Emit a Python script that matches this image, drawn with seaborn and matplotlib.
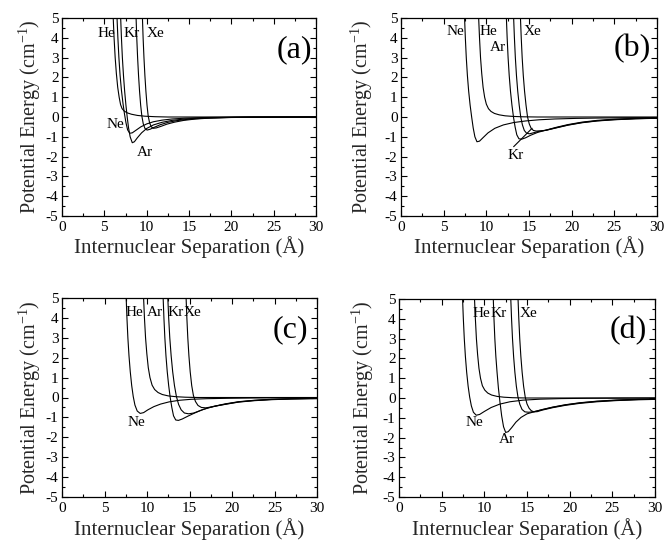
import matplotlib
matplotlib.use("Agg")
import matplotlib.pyplot as plt
from matplotlib.ticker import MultipleLocator
import pandas as pd
import seaborn as sns

# ---------------- data: interatomic potential curves (r in Å, V in cm^-1) ----------------
# panel (a)
a_he_r = [5.98, 6.05, 6.15, 6.28, 6.42, 6.58, 6.75, 6.92, 7.1, 7.35, 7.7, 8.2, 8.9, 9.8, 11.0, 12.5, 15, 30]
a_he_v = [6.0, 5.0, 4.0, 3.0, 2.2, 1.5, 1.0, 0.62, 0.42, 0.3, 0.21, 0.14, 0.08, 0.04, 0.015, 0.0, 0, 0]
a_ne_r = [6.43, 6.5, 6.6, 6.72, 6.86, 7.02, 7.2, 7.38, 7.56, 7.75, 8.0, 8.3, 8.7, 9.3, 10.0, 10.8, 11.8, 13, 14.5, 16.5, 19, 22, 30]
a_ne_v = [6.0, 5.0, 4.0, 3.0, 2.1, 1.35, 0.7, 0.15, -0.3, -0.65, -0.82, -0.8, -0.68, -0.5, -0.35, -0.24, -0.16, -0.1, -0.06, -0.03, -0.015, -0.005, 0]
a_ar_r = [6.86, 6.93, 7.02, 7.13, 7.26, 7.4, 7.55, 7.7, 7.86, 8.05, 8.3, 8.55, 8.9, 9.4, 10.0, 10.8, 11.8, 13, 14.5, 16.5, 19, 22, 30]
a_ar_v = [6.0, 5.0, 4.0, 3.0, 2.1, 1.3, 0.6, 0.0, -0.55, -1.0, -1.3, -1.25, -1.05, -0.8, -0.58, -0.4, -0.27, -0.17, -0.1, -0.05, -0.025, -0.01, 0]
a_kr_r = [8.68, 8.75, 8.83, 8.93, 9.04, 9.16, 9.29, 9.43, 9.6, 9.8, 10.05, 10.4, 10.9, 11.6, 12.5, 13.6, 15, 17, 19.5, 22, 30]
a_kr_v = [6.0, 5.0, 4.0, 3.0, 2.1, 1.3, 0.6, 0.05, -0.35, -0.58, -0.66, -0.62, -0.52, -0.39, -0.27, -0.18, -0.11, -0.055, -0.025, -0.01, 0]
a_xe_r = [9.43, 9.5, 9.58, 9.68, 9.79, 9.91, 10.04, 10.18, 10.35, 10.55, 10.8, 11.15, 11.7, 12.4, 13.3, 14.4, 15.8, 17.5, 20, 23, 30]
a_xe_v = [6.0, 5.0, 4.0, 3.0, 2.1, 1.3, 0.6, 0.05, -0.3, -0.5, -0.57, -0.55, -0.47, -0.36, -0.26, -0.17, -0.1, -0.055, -0.025, -0.01, 0]

# panel (b)
b_ne_r = [7.38, 7.45, 7.54, 7.65, 7.78, 7.93, 8.1, 8.28, 8.46, 8.66, 8.9, 9.2, 9.6, 10.2, 11.0, 12.0, 13.2, 14.6, 16.2, 18, 20.5, 23.5, 27, 30]
b_ne_v = [6.0, 5.0, 4.0, 3.0, 2.1, 1.3, 0.6, 0.0, -0.55, -1.0, -1.25, -1.22, -1.05, -0.8, -0.57, -0.4, -0.28, -0.2, -0.14, -0.1, -0.07, -0.05, -0.035, -0.03]
b_he_r = [9.03, 9.1, 9.2, 9.32, 9.46, 9.62, 9.8, 10.0, 10.25, 10.55, 10.95, 11.5, 12.2, 13.1, 14.3, 16, 30]
b_he_v = [6.0, 5.0, 4.0, 3.0, 2.2, 1.5, 1.0, 0.65, 0.42, 0.28, 0.18, 0.11, 0.06, 0.03, 0.01, 0, 0]
b_ar_r = [12.28, 12.35, 12.44, 12.55, 12.68, 12.83, 13.0, 13.18, 13.37, 13.57, 13.82, 14.15, 14.6, 15.2, 16.0, 17.0, 18.2, 19.6, 21.2, 23, 25, 27.5, 30]
b_ar_v = [6.0, 5.0, 4.0, 3.0, 2.1, 1.3, 0.6, 0.0, -0.5, -0.9, -1.1, -1.12, -1.05, -0.92, -0.78, -0.66, -0.52, -0.38, -0.26, -0.17, -0.11, -0.07, -0.05]
b_kr_r = [13.13, 13.2, 13.29, 13.4, 13.53, 13.68, 13.85, 14.03, 14.23, 14.45, 14.72, 15.05, 15.5, 16.1, 17.0, 18.2, 19.6, 21.2, 23, 25, 27.5, 30]
b_kr_v = [6.0, 5.0, 4.0, 3.0, 2.1, 1.3, 0.6, 0.0, -0.4, -0.68, -0.82, -0.85, -0.8, -0.73, -0.67, -0.54, -0.4, -0.28, -0.19, -0.13, -0.085, -0.06]
b_xe_r = [13.93, 14.0, 14.09, 14.2, 14.33, 14.48, 14.65, 14.83, 15.03, 15.25, 15.52, 15.85, 16.3, 17.0, 18.2, 19.6, 21.2, 23, 25, 27.5, 30]
b_xe_v = [6.0, 5.0, 4.0, 3.0, 2.1, 1.3, 0.6, 0.0, -0.35, -0.57, -0.68, -0.71, -0.7, -0.67, -0.55, -0.41, -0.29, -0.2, -0.14, -0.09, -0.065]

# panel (c)
c_ne_r = [7.48, 7.55, 7.64, 7.75, 7.88, 8.03, 8.2, 8.38, 8.58, 8.85, 9.2, 9.6, 10.1, 10.8, 11.6, 12.6, 13.8, 15.2, 17, 19.5, 22.5, 26, 30]
c_ne_v = [6.0, 5.0, 4.0, 3.0, 2.1, 1.3, 0.6, 0.05, -0.38, -0.68, -0.8, -0.76, -0.62, -0.46, -0.33, -0.22, -0.14, -0.09, -0.06, -0.04, -0.025, -0.015, -0.01]
c_he_r = [9.53, 9.6, 9.7, 9.83, 9.98, 10.15, 10.35, 10.6, 10.9, 11.3, 11.8, 12.5, 13.4, 14.5, 16, 30]
c_he_v = [6.0, 5.0, 4.0, 3.0, 2.2, 1.5, 1.0, 0.62, 0.4, 0.25, 0.15, 0.08, 0.04, 0.015, 0, 0]
c_ar_r = [11.83, 11.9, 11.99, 12.1, 12.23, 12.38, 12.55, 12.73, 12.92, 13.12, 13.38, 13.7, 14.15, 14.8, 15.6, 16.6, 17.8, 19.2, 20.8, 22.6, 24.6, 27, 30]
c_ar_v = [6.0, 5.0, 4.0, 3.0, 2.1, 1.3, 0.6, 0.0, -0.5, -0.92, -1.13, -1.15, -1.08, -0.94, -0.78, -0.6, -0.45, -0.32, -0.21, -0.14, -0.09, -0.06, -0.04]
c_kr_r = [12.38, 12.45, 12.55, 12.68, 12.84, 13.02, 13.23, 13.46, 13.72, 14.02, 14.4, 14.9, 15.5, 16.3, 17.2, 18.2, 19.4, 20.8, 22.6, 24.6, 27, 30]
c_kr_v = [6.0, 5.0, 4.0, 3.0, 2.1, 1.3, 0.6, 0.05, -0.35, -0.62, -0.78, -0.82, -0.78, -0.65, -0.52, -0.42, -0.32, -0.22, -0.15, -0.1, -0.07, -0.05]
c_xe_r = [14.53, 14.6, 14.69, 14.8, 14.93, 15.08, 15.26, 15.46, 15.7, 16.0, 16.4, 16.9, 17.5, 18.2, 19.4, 20.8, 22.6, 24.6, 27, 30]
c_xe_v = [6.0, 5.0, 4.0, 3.0, 2.1, 1.3, 0.6, 0.1, -0.2, -0.4, -0.5, -0.52, -0.48, -0.42, -0.33, -0.23, -0.16, -0.11, -0.075, -0.055]

# panel (d)
d_ne_r = [7.38, 7.45, 7.54, 7.65, 7.78, 7.93, 8.1, 8.28, 8.48, 8.72, 9.05, 9.45, 10.0, 10.8, 11.8, 13.0, 14.5, 16.5, 19, 22, 26, 30]
d_ne_v = [6.0, 5.0, 4.0, 3.0, 2.1, 1.3, 0.6, 0.05, -0.4, -0.72, -0.87, -0.83, -0.68, -0.48, -0.31, -0.19, -0.11, -0.06, -0.03, -0.015, -0.005, 0]
d_he_r = [8.78, 8.85, 8.95, 9.07, 9.21, 9.37, 9.55, 9.77, 10.05, 10.4, 10.85, 11.5, 12.3, 13.3, 15, 30]
d_he_v = [6.0, 5.0, 4.0, 3.0, 2.2, 1.5, 1.0, 0.62, 0.4, 0.25, 0.15, 0.08, 0.04, 0.015, 0, 0]
d_ar_r = [10.98, 11.05, 11.13, 11.23, 11.35, 11.49, 11.65, 11.83, 12.03, 12.25, 12.5, 12.8, 13.2, 13.7, 14.3, 15.0, 15.8, 16.8, 18, 19.5, 21.2, 23.2, 25.5, 28, 30]
d_ar_v = [6.0, 5.0, 4.0, 3.0, 2.1, 1.3, 0.5, -0.2, -0.9, -1.45, -1.74, -1.7, -1.5, -1.22, -0.98, -0.8, -0.7, -0.58, -0.46, -0.34, -0.24, -0.16, -0.1, -0.065, -0.05]
d_kr_r = [13.03, 13.1, 13.19, 13.3, 13.43, 13.58, 13.75, 13.94, 14.16, 14.42, 14.75, 15.2, 15.8, 16.8, 18, 19.5, 21.2, 23.2, 25.5, 28, 30]
d_kr_v = [6.0, 5.0, 4.0, 3.0, 2.1, 1.3, 0.6, 0.05, -0.32, -0.58, -0.7, -0.72, -0.69, -0.59, -0.47, -0.35, -0.25, -0.17, -0.115, -0.075, -0.06]
d_xe_r = [13.88, 13.95, 14.04, 14.15, 14.28, 14.43, 14.6, 14.79, 15.0, 15.25, 15.5, 15.8, 16.2, 16.8, 18, 19.5, 21.2, 23.2, 25.5, 28, 30]
d_xe_v = [6.0, 5.0, 4.0, 3.0, 2.1, 1.3, 0.6, 0.05, -0.3, -0.52, -0.64, -0.7, -0.69, -0.61, -0.49, -0.37, -0.27, -0.19, -0.13, -0.09, -0.07]

gases = ["He", "Ne", "Ar", "Kr", "Xe"]
panel_tags = ["(a)", "(b)", "(c)", "(d)"]

# curve-name annotations: (text, r, V) per panel
a_labels = [("He", 5.2, 4.24), ("Kr", 8.26, 4.24), ("Xe", 11.0, 4.24), ("Ne", 6.26, -0.4), ("Ar", 9.8, -1.77)]
b_labels = [("Ne", 6.33, 4.3), ("He", 10.2, 4.3), ("Ar", 11.3, 3.5), ("Xe", 15.4, 4.3), ("Kr", 13.4, -1.92)]
c_labels = [("He", 8.5, 4.25), ("Ar", 10.9, 4.25), ("Kr", 13.4, 4.25), ("Xe", 15.3, 4.25), ("Ne", 8.7, -1.28)]
d_labels = [("He", 9.7, 4.27), ("Kr", 11.7, 4.27), ("Xe", 15.2, 4.27), ("Ne", 8.8, -1.26), ("Ar", 12.7, -2.1)]
# leader line from the Kr label in panel (b) to its curve
b_kr_leader_from = (13.2, -1.5)
b_kr_leader_to = (15.36, -0.57)

tag_pos = [(27.4, 3.41), (27.1, 3.46), (26.9, 3.39), (26.9, 3.43)]

panels = [
    {"He": (a_he_r, a_he_v), "Ne": (a_ne_r, a_ne_v), "Ar": (a_ar_r, a_ar_v), "Kr": (a_kr_r, a_kr_v), "Xe": (a_xe_r, a_xe_v)},
    {"He": (b_he_r, b_he_v), "Ne": (b_ne_r, b_ne_v), "Ar": (b_ar_r, b_ar_v), "Kr": (b_kr_r, b_kr_v), "Xe": (b_xe_r, b_xe_v)},
    {"He": (c_he_r, c_he_v), "Ne": (c_ne_r, c_ne_v), "Ar": (c_ar_r, c_ar_v), "Kr": (c_kr_r, c_kr_v), "Xe": (c_xe_r, c_xe_v)},
    {"He": (d_he_r, d_he_v), "Ne": (d_ne_r, d_ne_v), "Ar": (d_ar_r, d_ar_v), "Kr": (d_kr_r, d_kr_v), "Xe": (d_xe_r, d_xe_v)},
]
labels = [a_labels, b_labels, c_labels, d_labels]

# ---------------- style ----------------
sns.set_theme(style="ticks")
plt.rcParams["font.family"] = ["Liberation Serif", "DejaVu Serif"]
plt.rcParams["mathtext.fontset"] = "custom"
plt.rcParams["mathtext.rm"] = "Liberation Serif"
plt.rcParams["mathtext.it"] = "Liberation Serif:italic"
plt.rcParams["axes.unicode_minus"] = False
plt.rcParams["axes.linewidth"] = 0.9
plt.rcParams["axes.edgecolor"] = "black"

fig = plt.figure(figsize=(6.65, 5.40), dpi=100)
fig.patch.set_facecolor("white")

# axes rectangles in figure fraction
rects = [
    [62 / 665, 1 - 216 / 540, 254 / 665, 198 / 540],
    [401 / 665, 1 - 216 / 540, 256 / 665, 198 / 540],
    [62 / 665, 1 - 497 / 540, 255 / 665, 199 / 540],
    [399 / 665, 1 - 497 / 540, 256 / 665, 198 / 540],
]
ylabel_x = [-0.126, -0.152, -0.126, -0.142]
xlabel_y = [-0.155, -0.155, -0.16, -0.16]

for i, rect in enumerate(rects):
    ax = fig.add_axes(rect)
    frames = []
    for g in gases:
        r, v = panels[i][g]
        frames.append(pd.DataFrame({"r": r, "V": v, "gas": g}))
    df = pd.concat(frames, ignore_index=True)
    sns.lineplot(data=df, x="r", y="V", units="gas", estimator=None, sort=False,
                 color="black", linewidth=0.8, legend=False, ax=ax)

    ax.set_xlim(0, 30)
    ax.set_ylim(-5, 5)
    ax.xaxis.set_major_locator(MultipleLocator(5))
    ax.xaxis.set_minor_locator(MultipleLocator(2.5))
    ax.yaxis.set_major_locator(MultipleLocator(1))
    ax.yaxis.set_minor_locator(MultipleLocator(0.5))
    ax.tick_params(which="both", direction="in", top=True, right=True, colors="black",
                   labelsize=11, width=0.8)
    ax.tick_params(which="major", length=4)
    ax.tick_params(which="minor", length=2.2)
    ax.tick_params(axis="x", which="major", pad=3.5)
    ax.tick_params(axis="y", which="major", pad=2.5)
    for s in ax.spines.values():
        s.set_visible(True)
        s.set_color("black")

    ax.set_xlabel("Internuclear Separation (Å)", fontsize=15)
    ax.set_ylabel(r"Potential Energy (cm$^{-1}$)", fontsize=14.5)
    ax.xaxis.set_label_coords(0.5, xlabel_y[i])
    ax.xaxis.label.set_va("center")
    ax.yaxis.set_label_coords(ylabel_x[i], 0.5)
    ax.yaxis.label.set_va("center")

    for txt, x, y in labels[i]:
        ax.text(x, y, txt, fontsize=11, ha="center", va="center", color="black")
    tx, ty = tag_pos[i]
    ax.text(tx, ty, panel_tags[i], fontsize=23, ha="center", va="center", color="black")

    if i == 1:
        ax.annotate("", xy=b_kr_leader_to, xytext=b_kr_leader_from,
                    arrowprops=dict(arrowstyle="-", color="black", lw=0.8,
                                    shrinkA=0, shrinkB=0))

fig.savefig("out.png", dpi=100, facecolor="white")
